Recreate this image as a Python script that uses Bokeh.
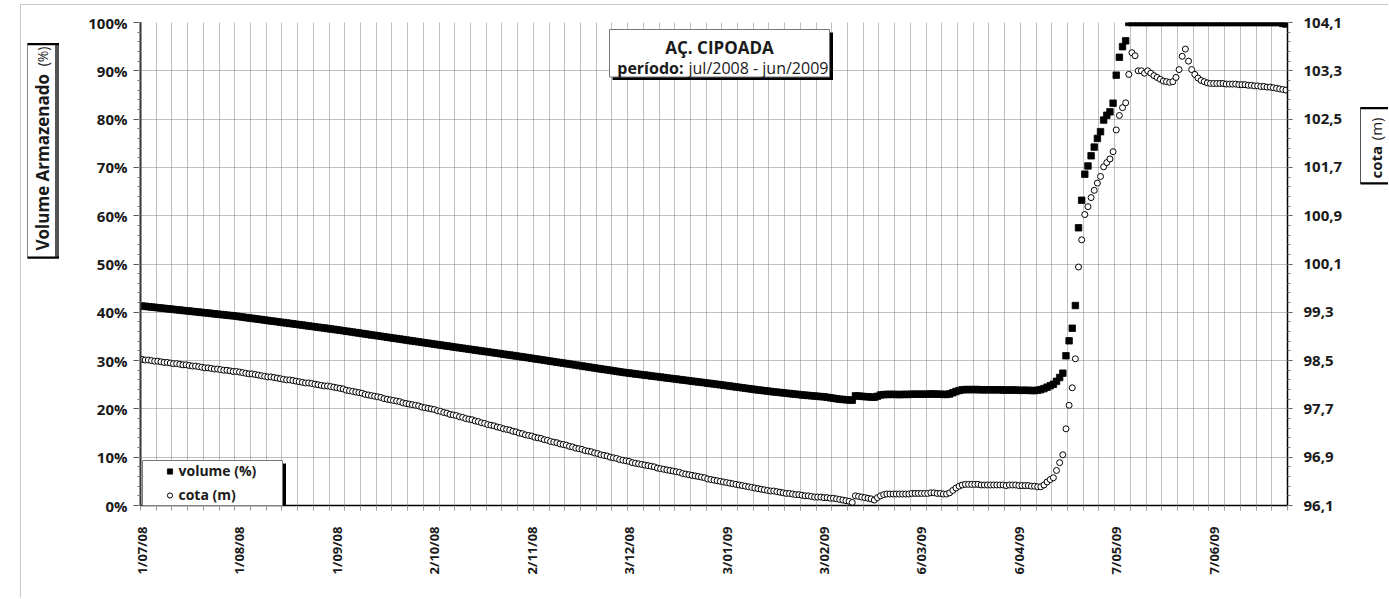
import math
from bokeh.plotting import figure
from bokeh.layouts import row, column
from bokeh.models import (Range1d, LinearAxis, FixedTicker, CustomJSTickFormatter,
                          BoxAnnotation, Label, Legend, LegendItem, ColumnDataSource, Div)
from bokeh.embed import file_html
from bokeh.resources import INLINE

# ---------------- data (daily values, 1/07/2008 .. 30/06/2009) ----------------
vol_jul = [41.30, 41.23, 41.16, 41.09, 41.02, 40.95, 40.88, 40.81, 40.74, 40.67,
           40.60, 40.53, 40.46, 40.39, 40.32, 40.25, 40.18, 40.11, 40.04, 39.97,
           39.90, 39.83, 39.76, 39.69, 39.62, 39.55, 39.48, 39.41, 39.34, 39.27, 39.20]
vol_aug = [39.10, 39.01, 38.92, 38.84, 38.75, 38.66, 38.57, 38.49, 38.40, 38.31,
           38.22, 38.14, 38.05, 37.96, 37.87, 37.79, 37.70, 37.61, 37.52, 37.44,
           37.35, 37.26, 37.17, 37.09, 37.00, 36.91, 36.82, 36.74, 36.65, 36.56, 36.47]
vol_sep = [36.38, 36.28, 36.19, 36.09, 36.00, 35.90, 35.80, 35.71, 35.61, 35.52,
           35.42, 35.32, 35.23, 35.13, 35.04, 34.94, 34.84, 34.75, 34.65, 34.56,
           34.46, 34.36, 34.27, 34.17, 34.08, 33.98, 33.88, 33.79, 33.69, 33.60]
vol_oct = [33.50, 33.41, 33.31, 33.22, 33.12, 33.03, 32.94, 32.84, 32.75, 32.65,
           32.56, 32.47, 32.37, 32.28, 32.18, 32.09, 32.00, 31.90, 31.81, 31.71,
           31.62, 31.53, 31.43, 31.34, 31.24, 31.15, 31.06, 30.96, 30.87, 30.77, 30.68]
vol_nov = [30.58, 30.48, 30.38, 30.28, 30.18, 30.08, 29.98, 29.88, 29.78, 29.68,
           29.58, 29.48, 29.38, 29.28, 29.18, 29.08, 28.98, 28.88, 28.78, 28.68,
           28.58, 28.48, 28.38, 28.28, 28.18, 28.08, 27.98, 27.88, 27.78, 27.68]
vol_dec = [27.58, 27.50, 27.41, 27.33, 27.25, 27.17, 27.08, 27.00, 26.92, 26.83,
           26.75, 26.67, 26.58, 26.50, 26.42, 26.33, 26.25, 26.17, 26.08, 26.00,
           25.92, 25.83, 25.75, 25.67, 25.58, 25.50, 25.42, 25.33, 25.25, 25.17, 25.08]
vol_jan = [25.00, 24.91, 24.82, 24.73, 24.64, 24.55, 24.46, 24.37, 24.28, 24.19,
           24.10, 24.01, 23.93, 23.85, 23.77, 23.69, 23.61, 23.53, 23.46, 23.39,
           23.32, 23.25, 23.18, 23.11, 23.04, 22.97, 22.90, 22.84, 22.78, 22.72, 22.66]
vol_feb = [22.60, 22.55, 22.50, 22.40, 22.30, 22.20, 22.10, 22.00, 21.95, 21.90,
           21.85, 21.80, 22.70, 22.65, 22.60, 22.55, 22.50, 22.45, 22.40, 22.60,
           22.90, 22.95, 23.00, 23.00, 23.00, 23.00, 22.95, 23.00]
vol_mar = [23.00, 23.00, 23.05, 23.05, 23.05, 23.05, 23.05, 23.05, 23.10, 23.10,
           23.05, 23.05, 23.00, 23.00, 23.10, 23.35, 23.60, 23.80, 23.95, 24.00,
           24.00, 24.00, 24.00, 24.00, 23.95, 23.95, 23.95, 23.95, 23.95, 23.95, 23.95]
vol_apr = [23.90, 23.90, 23.90, 23.90, 23.90, 23.85, 23.85, 23.85, 23.85, 23.80,
           23.80, 23.85, 24.00, 24.20, 24.50, 24.80, 25.10, 25.70, 26.50, 27.40,
           31.00, 34.10, 36.70, 41.40, 57.50, 63.20, 68.60, 70.30, 72.40, 74.20]
vol_may = [76.00, 77.40, 79.80, 80.80, 81.50, 83.30, 89.10, 92.80, 95.00, 96.20,
           100.0, 100.0, 100.0, 100.0, 100.0, 100.0, 100.0, 100.0, 100.0, 100.0,
           100.0, 100.0, 100.0, 100.0, 100.0, 100.0, 100.0, 100.0, 100.0, 100.0, 100.0]
vol_jun = [100.0, 100.0, 100.0, 100.0, 100.0, 100.0, 100.0, 100.0, 100.0, 100.0,
           100.0, 100.0, 100.0, 100.0, 100.0, 100.0, 100.0, 100.0, 100.0, 100.0,
           100.0, 100.0, 100.0, 100.0, 100.0, 100.0, 100.0, 100.0, 99.8, 99.7]

cota_jul = [98.52, 98.51, 98.51, 98.50, 98.49, 98.49, 98.48, 98.47, 98.47, 98.46,
            98.45, 98.45, 98.44, 98.43, 98.43, 98.42, 98.41, 98.41, 98.40, 98.39,
            98.38, 98.38, 98.37, 98.36, 98.36, 98.35, 98.34, 98.34, 98.33, 98.32, 98.32]
cota_aug = [98.31, 98.30, 98.29, 98.28, 98.28, 98.27, 98.26, 98.25, 98.24, 98.23,
            98.23, 98.22, 98.21, 98.20, 98.19, 98.18, 98.18, 98.17, 98.16, 98.15,
            98.14, 98.13, 98.13, 98.12, 98.11, 98.10, 98.09, 98.08, 98.08, 98.07, 98.06]
cota_sep = [98.05, 98.04, 98.03, 98.01, 98.00, 97.99, 97.98, 97.97, 97.96, 97.94,
            97.93, 97.92, 97.91, 97.90, 97.89, 97.87, 97.86, 97.85, 97.84, 97.83,
            97.82, 97.80, 97.79, 97.78, 97.77, 97.76, 97.75, 97.73, 97.72, 97.71]
cota_oct = [97.70, 97.69, 97.67, 97.66, 97.64, 97.63, 97.61, 97.60, 97.59, 97.57,
            97.56, 97.54, 97.53, 97.52, 97.50, 97.49, 97.47, 97.46, 97.44, 97.43,
            97.42, 97.40, 97.39, 97.37, 97.36, 97.35, 97.33, 97.32, 97.30, 97.29, 97.27]
cota_nov = [97.26, 97.25, 97.23, 97.22, 97.21, 97.19, 97.18, 97.16, 97.15, 97.14,
            97.12, 97.11, 97.10, 97.08, 97.07, 97.05, 97.04, 97.03, 97.01, 97.00,
            96.99, 96.97, 96.96, 96.94, 96.93, 96.92, 96.90, 96.89, 96.88, 96.86]
cota_dec = [96.85, 96.84, 96.83, 96.81, 96.80, 96.79, 96.78, 96.77, 96.76, 96.75,
            96.74, 96.72, 96.71, 96.70, 96.69, 96.68, 96.67, 96.66, 96.65, 96.63,
            96.62, 96.61, 96.60, 96.59, 96.58, 96.57, 96.56, 96.54, 96.53, 96.52, 96.51]
cota_jan = [96.50, 96.49, 96.48, 96.47, 96.46, 96.45, 96.44, 96.43, 96.42, 96.41,
            96.40, 96.39, 96.38, 96.37, 96.36, 96.35, 96.34, 96.34, 96.33, 96.32,
            96.31, 96.30, 96.30, 96.29, 96.28, 96.28, 96.27, 96.26, 96.26, 96.25, 96.24]
cota_feb = [96.24, 96.24, 96.23, 96.23, 96.22, 96.22, 96.21, 96.20, 96.19, 96.18,
            96.17, 96.15, 96.26, 96.25, 96.24, 96.23, 96.22, 96.21, 96.19, 96.23,
            96.26, 96.28, 96.29, 96.29, 96.29, 96.29, 96.29, 96.29]
cota_mar = [96.29, 96.29, 96.30, 96.30, 96.30, 96.30, 96.30, 96.30, 96.31, 96.31,
            96.30, 96.30, 96.29, 96.29, 96.31, 96.35, 96.39, 96.42, 96.44, 96.45,
            96.45, 96.45, 96.45, 96.45, 96.44, 96.44, 96.44, 96.44, 96.44, 96.44, 96.44]
cota_apr = [96.44, 96.43, 96.44, 96.44, 96.44, 96.43, 96.43, 96.43, 96.43, 96.42,
            96.42, 96.41, 96.41, 96.44, 96.49, 96.53, 96.56, 96.68, 96.81, 96.94,
            97.37, 97.76, 98.05, 98.53, 100.05, 100.50, 100.92, 101.05, 101.20, 101.32]
cota_may = [101.44, 101.55, 101.71, 101.78, 101.84, 101.96, 102.32, 102.56, 102.69, 102.77,
            103.24, 103.60, 103.55, 103.30, 103.30, 103.26, 103.30, 103.26, 103.22, 103.19,
            103.16, 103.13, 103.12, 103.11, 103.12, 103.19, 103.32, 103.54, 103.66, 103.46, 103.32]
cota_jun = [103.24, 103.18, 103.14, 103.12, 103.10, 103.09, 103.09, 103.09, 103.09, 103.09,
            103.08, 103.08, 103.08, 103.08, 103.07, 103.07, 103.07, 103.06, 103.06, 103.05,
            103.05, 103.04, 103.04, 103.03, 103.03, 103.02, 103.01, 103.00, 102.99, 102.98]

tick_days = [0, 31, 62, 93, 124, 155, 186, 217, 248, 279, 310, 341]
tick_labels = ["1/07/08", "1/08/08", "1/09/08", "2/10/08", "2/11/08", "3/12/08",
               "3/01/09", "3/02/09", "6/03/09", "6/04/09", "7/05/09", "7/06/09"]
pct_ticks = [0, 10, 20, 30, 40, 50, 60, 70, 80, 90, 100]
cota_ticks = [96.1, 96.9, 97.7, 98.5, 99.3, 100.1, 100.9, 101.7, 102.5, 103.3, 104.1]

volume = (vol_jul + vol_aug + vol_sep + vol_oct + vol_nov + vol_dec +
          vol_jan + vol_feb + vol_mar + vol_apr + vol_may + vol_jun)
cota = (cota_jul + cota_aug + cota_sep + cota_oct + cota_nov + cota_dec +
        cota_jan + cota_feb + cota_mar + cota_apr + cota_may + cota_jun)
days = list(range(len(volume)))

# ---------------- page geometry (page pixels) ----------------
FONT = "Open Sans"
PAGE_W, PAGE_H = 1388, 598
EDGE_X, EDGE_Y = 20, 4       # light outer chart-area frame lines
TOP_H = EDGE_Y + 1           # strip holding the top frame line
ROW_H = PAGE_H - TOP_H
LEFT_X0, LEFT_X1 = 21, 80    # left strip (axis title)
RIGHT_X = 1355               # right strip start (axis title)
FL, FR, FT, FB = 140, 1287, 22, 505   # plot frame edges
BORDER_T, BORDER_B = FT - TOP_H, PAGE_H - FB
EDGE_COLOR = "#c8c8c8"


def blank(w, h, color=None):
    kw = {"styles": {"background-color": color}} if color else {}
    return Div(text="", width=w, height=h, margin=0, **kw)


def deco_fig(x0, x1):
    f = figure(width=x1 - x0, height=ROW_H, output_backend="svg", toolbar_location=None,
               x_range=Range1d(x0, x1), y_range=Range1d(FB, FT),
               x_axis_type=None, y_axis_type=None,
               min_border_left=0, min_border_right=0,
               min_border_top=BORDER_T, min_border_bottom=BORDER_B)
    f.outline_line_color = None
    f.background_fill_color = "white"
    f.border_fill_color = "white"
    return f


def dbox(l, t, r, b, fill, line=None):
    return BoxAnnotation(left=l, right=r, top=t, bottom=b, fill_color=fill, fill_alpha=1.0,
                         line_color=line, line_alpha=1.0 if line else 0.0, line_width=1)


def dlab(x, y, text, size, style, align):
    return Label(x=x, y=y, text=text, text_font=FONT, text_font_size=size,
                 text_font_style=style, text_color="#1a1a1a", text_align=align,
                 text_baseline="middle", angle=math.pi / 2)


# left strip: "Volume Armazenado (%)" box
left = deco_fig(LEFT_X0, LEFT_X1)
left.add_layout(dbox(27, 43, 55, 257, "white", "#888888"))
left.add_layout(dbox(54.5, 43, 58.5, 257, "#555555"))
left.add_layout(dbox(27, 42.5, 58.5, 44.7, "black"))
left.add_layout(dbox(27, 256, 58.5, 258.2, "black"))
left.add_layout(dlab(42, 250, "Volume Armazenado", "17px", "bold", "left"))
left.add_layout(dlab(42, 46, "(%)", "14px", "normal", "right"))

# right strip: "cota (m)" box
right = deco_fig(RIGHT_X, PAGE_W)
right.add_layout(dbox(1360, 107, 1400, 183, "white", "#555555"))
right.add_layout(dbox(1360, 106.5, 1400, 108.7, "black"))
right.add_layout(dbox(1360, 181.8, 1400, 184, "black"))
right.add_layout(dlab(1375, 178, "cota", "15px", "bold", "left"))
right.add_layout(dlab(1375, 117, "(m)", "15px", "normal", "right"))

# ---------------- main chart ----------------
p = figure(width=RIGHT_X - LEFT_X1, height=ROW_H, output_backend="svg", toolbar_location=None,
           x_range=Range1d(-0.5, len(days) - 0.5), y_range=Range1d(0, 100),
           min_border_left=FL - LEFT_X1, min_border_right=RIGHT_X - FR,
           min_border_top=BORDER_T, min_border_bottom=BORDER_B)
p.extra_y_ranges = {"cota": Range1d(cota_ticks[0], cota_ticks[-1])}
p.outline_line_color = None
p.background_fill_color = "white"
p.border_fill_color = "white"

grid_days = [-0.5 + 5 * k for k in range(74)]
pct_minor = [2 * k for k in range(51)]
cota_minor = [96.1 + 0.16 * k for k in range(51)]

xa = p.xaxis[0]
xa.ticker = FixedTicker(ticks=tick_days, minor_ticks=grid_days)
xa.formatter = CustomJSTickFormatter(args=dict(pos=tick_days, lab=tick_labels),
    code="const i = pos.indexOf(Math.round(tick)); return i >= 0 ? lab[i] : '';")
xa.major_label_orientation = math.pi / 2
xa.major_tick_line_color = None
xa.major_tick_out = 0
xa.major_tick_in = 0
xa.minor_tick_out = 5
xa.minor_tick_in = 0
xa.minor_tick_line_color = "#999999"
xa.major_label_standoff = 16
xa.axis_line_color = "black"
xa.axis_line_width = 1.5
xa.major_label_text_font = FONT
xa.major_label_text_font_style = "bold"
xa.major_label_text_font_size = "13px"
xa.major_label_text_color = "#1a1a1a"

ya = p.yaxis[0]
ya.ticker = FixedTicker(ticks=pct_ticks, minor_ticks=pct_minor)
ya.formatter = CustomJSTickFormatter(code="return tick.toFixed(0) + '%';")
ya.axis_line_color = "#333333"
ya.axis_line_width = 2
ya.major_tick_out = 7
ya.major_tick_in = 1
ya.minor_tick_out = 3
ya.minor_tick_in = 0
ya.major_tick_line_color = "#555555"
ya.minor_tick_line_color = "#777777"
ya.major_label_standoff = 6
ya.major_label_text_font = FONT
ya.major_label_text_font_style = "bold"
ya.major_label_text_font_size = "15px"
ya.major_label_text_color = "#1a1a1a"

yr = LinearAxis(y_range_name="cota",
                ticker=FixedTicker(ticks=cota_ticks, minor_ticks=cota_minor),
                formatter=CustomJSTickFormatter(code="return tick.toFixed(1).replace('.', ',');"))
yr.axis_line_color = "black"
yr.axis_line_width = 1.5
yr.major_tick_out = 5
yr.major_tick_in = 0
yr.minor_tick_out = 3
yr.minor_tick_in = 0
yr.major_tick_line_color = "#555555"
yr.minor_tick_line_color = "#777777"
yr.major_label_standoff = 11
yr.major_label_text_font = FONT
yr.major_label_text_font_style = "bold"
yr.major_label_text_font_size = "15px"
yr.major_label_text_color = "#1a1a1a"
p.add_layout(yr, "right")

p.xgrid.ticker = FixedTicker(ticks=grid_days)
p.ygrid.ticker = FixedTicker(ticks=pct_ticks)
for g in (p.xgrid[0], p.ygrid[0]):
    g.grid_line_color = "#808080"
    g.grid_line_dash = "1 1"
    g.grid_line_width = 1

src = ColumnDataSource(dict(day=days, volume=volume, cota=cota))
r_vol = p.scatter("day", "volume", source=src, marker="square", size=6.5,
                  fill_color="black", line_color="black", line_width=0.8)
r_cota = p.scatter("day", "cota", source=src, y_range_name="cota", marker="circle",
                   size=6, fill_color="white", line_color="black", line_width=1)


def box(l, t, r, b, fill="white", line=None):
    return BoxAnnotation(left=l - FL, right=r - FL, top=FB - t, bottom=FB - b,
                         left_units="screen", right_units="screen",
                         top_units="screen", bottom_units="screen",
                         fill_color=fill, fill_alpha=1.0,
                         line_color=line, line_width=1, line_alpha=1.0 if line else 0.0)


def lab(x, y, text, size, style="normal", align="left"):
    return Label(x=x - FL, y=FB - y, x_units="screen", y_units="screen", text=text,
                 text_font=FONT, text_font_size=size, text_font_style=style,
                 text_color="#1a1a1a", text_align=align, text_baseline="alphabetic")


for a in [box(612, 32, 832.5, 79.5, "black"),
          box(609, 29, 829, 76.5, "white", "#777777"),
          box(145, 463, 285.5, 509, "black"),
          box(142, 460, 282, 506, "white", "#777777")]:
    p.add_layout(a)

for t in [lab(719, 47, "AÇ. CIPOADA", "17px", "bold", "center"),
          lab(683, 67, "período:", "16px", "bold", "right"),
          lab(688, 67, "jul/2008 - jun/2009", "16px", "normal", "left")]:
    p.add_layout(t)

legend = Legend(items=[LegendItem(label="volume (%)", renderers=[r_vol]),
                       LegendItem(label="cota (m)", renderers=[r_cota])],
                location=(22.5, 0.5), orientation="vertical",
                border_line_color=None, background_fill_alpha=0,
                padding=0, margin=0, spacing=4,
                glyph_width=13, glyph_height=20, label_height=20, label_standoff=3,
                label_text_font=FONT, label_text_font_style="bold",
                label_text_font_size="14px", label_text_color="#1a1a1a")
p.add_layout(legend)

top_strip = column(blank(PAGE_W, EDGE_Y),
                   row(blank(EDGE_X, 1), blank(PAGE_W - EDGE_X, 1, EDGE_COLOR), spacing=0),
                   spacing=0)
main_row = row(blank(EDGE_X, ROW_H), blank(1, ROW_H, EDGE_COLOR), left, p, right, spacing=0)
page = column(top_strip, main_row, spacing=0)
open("out.html", "w").write(file_html(page, INLINE))
